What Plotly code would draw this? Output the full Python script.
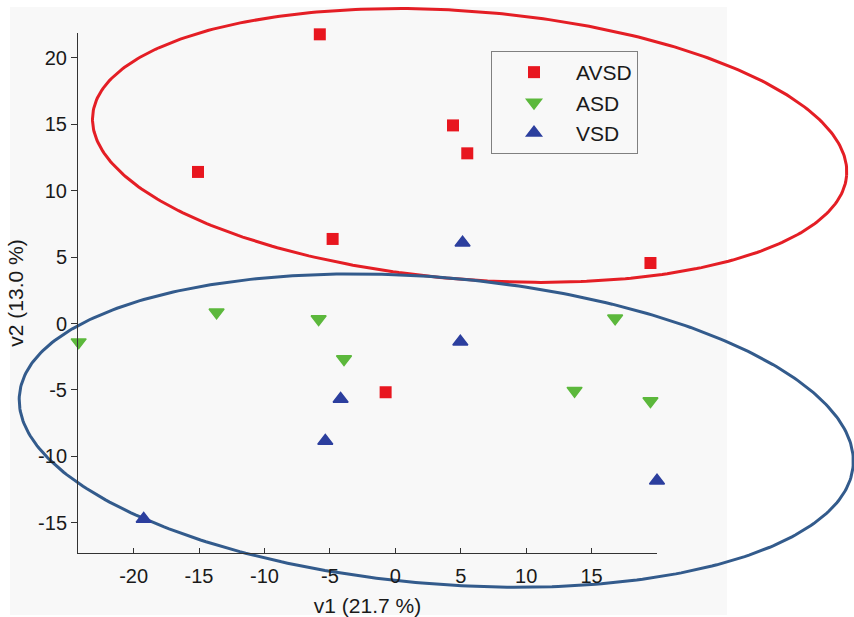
import numpy as np
import plotly.graph_objects as go

# ---------------- data ----------------
avsd_x = [-5.77, -15.08, 4.41, 5.50, -4.79, 19.50, -0.74]
avsd_y = [21.75, 11.40, 14.90, 12.80, 6.36, 4.55, -5.17]

asd_x = [-24.20, -13.66, -5.86, -3.92, 13.70, -6.14, 16.80, 19.50]
asd_y = [-1.40, 0.84, 0.34, -2.67, -5.05, -17.30, 0.39, -5.83]

vsd_x = [5.14, 4.97, -4.18, -5.35, 20.00, -19.23]
vsd_y = [6.08, -1.37, -5.68, -8.84, -11.82, -14.70]

# group ellipses: centre x, centre y, semi-major, semi-minor, angle (deg)
ellipse_avsd = (5.68, 13.39, 28.90, 10.08, -4.46)
ellipse_vsd = (3.13, -8.05, 31.97, 11.52, -4.75)

x_tickvals = [-20, -15, -10, -5, 0, 5, 10, 15]
x_ticktext = ["-20", "-15", "-10", "-5", "0", "5", "10", "15"]
y_tickvals = [-15, -10, -5, 0, 5, 10, 15, 20]
y_ticktext = ["-15", "-10", "-5", "0", "5", "10", "15", "20"]

x_range = [-24.25, 20.0]
y_range = [-17.26, 21.85]

# ---------------- layout geometry ----------------
W, H = 854, 617
AX_L, AX_R, AX_T, AX_B = 78, 657, 33, 553

px_x = (AX_R - AX_L) / (x_range[1] - x_range[0])
px_y = (AX_B - AX_T) / (y_range[1] - y_range[0])
full_x = [x_range[0] - AX_L / px_x, x_range[1] + (W - AX_R) / px_x]
full_y = [y_range[0] - (H - AX_B) / px_y, y_range[1] + AX_T / px_y]


def ellipse(params, n=400):
    cx, cy, a, b, ang = params
    t = np.linspace(0, 2 * np.pi, n)
    th = np.deg2rad(ang)
    ex = cx + a * np.cos(t) * np.cos(th) - b * np.sin(t) * np.sin(th)
    ey = cy + a * np.cos(t) * np.sin(th) + b * np.sin(t) * np.cos(th)
    return ex, ey


FONT = "Liberation Sans, Arial, Helvetica, sans-serif"
RED = "#e8161f"
GREEN = "#5cb83c"
BLUE = "#2c3f9e"
ELL_RED = "#e41e25"
ELL_BLUE = "#335b8c"
TXT = "#1a1a1a"

fig = go.Figure()

# ellipses on full-figure overlay axes (not clipped to the data box)
ex, ey = ellipse(ellipse_avsd)
fig.add_trace(go.Scatter(x=ex, y=ey, mode="lines", line=dict(color=ELL_RED, width=3),
                         showlegend=False, hoverinfo="skip", xaxis="x", yaxis="y"))
ex, ey = ellipse(ellipse_vsd)
fig.add_trace(go.Scatter(x=ex, y=ey, mode="lines", line=dict(color=ELL_BLUE, width=3),
                         showlegend=False, hoverinfo="skip", xaxis="x", yaxis="y"))

# scatter groups on the visible axes
fig.add_trace(go.Scatter(x=avsd_x, y=avsd_y, mode="markers", name="AVSD",
                         marker=dict(symbol="square", size=12, color=RED),
                         xaxis="x2", yaxis="y2", cliponaxis=False))
fig.add_trace(go.Scatter(x=asd_x, y=asd_y, mode="markers", name="ASD",
                         marker=dict(symbol="triangle-down", size=13, color=GREEN,
                                     line=dict(color=GREEN, width=1.5)),
                         xaxis="x2", yaxis="y2", cliponaxis=False))
fig.add_trace(go.Scatter(x=vsd_x, y=vsd_y, mode="markers", name="VSD",
                         marker=dict(symbol="triangle-up", size=13, color=BLUE,
                                     line=dict(color=BLUE, width=1.5)),
                         xaxis="x2", yaxis="y2", cliponaxis=False))

fig.update_layout(
    width=W, height=H, autosize=False,
    margin=dict(l=0, r=0, t=0, b=0, pad=0),
    paper_bgcolor="white",
    plot_bgcolor="rgba(0,0,0,0)",
    font=dict(family=FONT, size=20, color=TXT),
    shapes=[dict(type="rect", xref="paper", yref="paper",
                 x0=10 / W, x1=727 / W, y0=1 - 615 / H, y1=1 - 7 / H,
                 fillcolor="#f8f8f8", line=dict(width=0), layer="below")],
    xaxis=dict(domain=[0, 1], range=full_x, visible=False, fixedrange=True),
    yaxis=dict(domain=[0, 1], range=full_y, visible=False, fixedrange=True, anchor="x"),
    xaxis2=dict(domain=[AX_L / W, AX_R / W], range=x_range, anchor="y2",
                showline=True, linecolor="#333333", linewidth=1,
                ticks="inside", ticklen=5, tickcolor="#333333",
                tickvals=x_tickvals, ticktext=x_ticktext, ticklabelstandoff=5,
                showgrid=False, zeroline=False, automargin=False,
                tickfont=dict(size=20, color=TXT),
                title=dict(text="v1 (21.7 %)", font=dict(size=21, color=TXT), standoff=14)),
    yaxis2=dict(domain=[1 - AX_B / H, 1 - AX_T / H], range=y_range, anchor="x2",
                showline=True, linecolor="#333333", linewidth=1,
                ticks="outside", ticklen=6, tickcolor="#333333",
                tickvals=y_tickvals, ticktext=y_ticktext,
                showgrid=False, zeroline=False, automargin=False,
                tickfont=dict(size=20, color=TXT),
                title=dict(text="v2 (13.0 %)", font=dict(size=21, color=TXT), standoff=8)),
    legend=dict(x=491 / W, y=1 - 51 / H, xanchor="left", yanchor="top",
                bgcolor="#f8f8f8", bordercolor="#808080", borderwidth=1,
                font=dict(size=21, color=TXT), itemwidth=74),
)

# remove the browser's default 8px body margin so the figure sits at (0,0)
fig.write_html("out.html",
               config={"displayModeBar": False},
               post_script="document.body.style.margin='0';document.body.style.overflow='hidden';")
